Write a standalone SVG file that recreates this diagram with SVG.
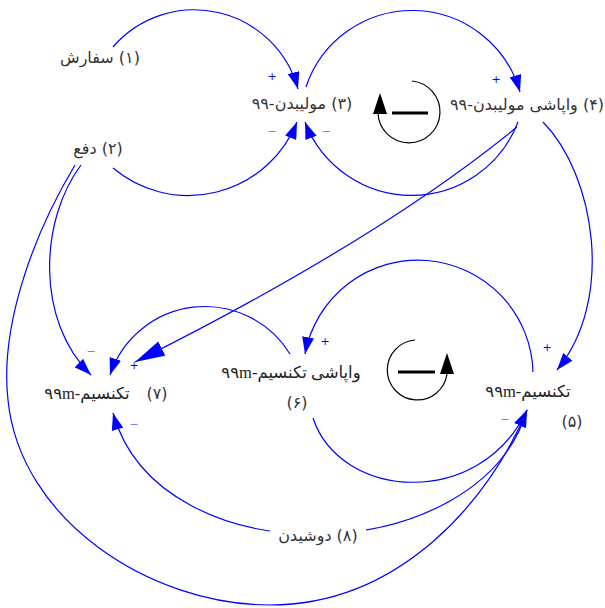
<svg xmlns="http://www.w3.org/2000/svg" width="605" height="608" viewBox="0 0 605 608">
<defs>
<style>
.c{fill:none;stroke:#0000ff;stroke-width:1.2;marker-end:url(#ah)}
.cb{fill:none;stroke:#0000ff;stroke-width:1.2;marker-end:url(#ahb)}
.t{font-family:"DejaVu Sans",sans-serif;font-size:16px;fill:#333;text-anchor:middle;dominant-baseline:central;direction:rtl}
.ts{font-family:"Liberation Serif","DejaVu Sans",serif;font-size:16.5px;fill:#222;text-anchor:middle;dominant-baseline:central;direction:rtl}
.p{font-family:"DejaVu Sans",sans-serif;font-size:11px;fill:#0000ff;text-anchor:middle;dominant-baseline:central}
.m{font-family:"DejaVu Sans",sans-serif;font-size:11px;fill:#7a7aff;text-anchor:middle;dominant-baseline:central}
.loop{fill:none;stroke:#000;stroke-width:1.2}
</style>
<marker id="ah" viewBox="0 0 17 12" refX="17" refY="6" markerWidth="17" markerHeight="12" markerUnits="userSpaceOnUse" orient="auto"><path d="M0,0 L17,6 L0,12 z" fill="#0000ff"/></marker>
<marker id="ahb" viewBox="0 0 30 16" refX="30" refY="8" markerWidth="30" markerHeight="16" markerUnits="userSpaceOnUse" orient="auto"><path d="M0,0 L30,8 L0,16 z" fill="#0000ff"/></marker>
</defs>
<rect width="605" height="608" fill="#fff"/>
<g id="connectors">
<path class="c" d="M113,47 A107.5,107.5 0 0 1 298,89"/>
<path class="c" d="M113,168 A117,117 0 0 0 297,122"/>
<path class="c" d="M306,87 A112,112 0 0 1 520,92"/>
<path class="c" d="M518,122 A114,114 0 0 1 305,122"/>
<path class="c" d="M543,122 C595,175 615,300 557,370"/>
<path class="c" d="M533,372 A115,115 0 0 0 305,354"/>
<path class="c" d="M290,354 A100,100 0 0 0 110,375"/>
<path class="cb" d="M517,127 Q379,240 135,362"/>
<path class="c" d="M81,165 C40,220 35,320 91,375"/>
<path class="c" d="M75,165 C30,240 0,330 8,400 C20,520 150,605 270,605 C400,605 490,500 527,410"/>
<path class="c" d="M313,418 C340,500 480,510 527,410"/>
<path class="c" d="M527,410 C480,570 160,580 113,413"/>
<text class="p" x="272" y="76">+</text>
<text class="m" x="272" y="131">−</text>
<text class="m" x="326" y="131">−</text>
<text class="p" x="496" y="79">+</text>
<text class="p" x="547" y="347">+</text>
<text class="m" x="505" y="419">−</text>
<text class="p" x="325" y="341">+</text>
<text class="m" x="91" y="351">−</text>
<text class="p" x="134" y="365">+</text>
<text class="m" x="134" y="424">−</text>
</g>
<g id="n1"><text class="t" x="100" y="57">(۱) سفارش</text></g>
<g id="n2"><text class="t" x="98" y="148">(۲) دفع</text></g>
<g id="n3"><text class="t" x="302" y="103">(۳) مولیبدن-۹۹</text></g>
<g id="n4"><text class="t" x="527" y="104">(۴) واپاشی مولیبدن-۹۹</text></g>
<g id="n5"><text class="ts" x="528" y="391">تکنسیم-۹۹m</text><text class="t" x="572" y="421">(۵)</text></g>
<g id="n6"><text class="ts" x="291" y="372">واپاشی تکنسیم-۹۹m</text><text class="t" x="297" y="402">(۶)</text></g>
<g id="n7"><text class="ts" x="87" y="393">تکنسیم-۹۹m</text><text class="t" x="157" y="393">(۷)</text></g>
<g id="n8"><rect x="270" y="525" width="96" height="22" fill="#fff"/><text class="t" x="318" y="535">(۸) دوشیدن</text></g>
<g id="loop1">
<path class="loop" d="M412,81 A31,31 0 1 1 378,113"/>
<polygon points="373,114 387,114 380,93" fill="#000"/>
<line x1="392" y1="113" x2="428" y2="113" stroke="#000" stroke-width="3"/>
</g>
<g id="loop2">
<path class="loop" d="M415,340 A30,30 0 1 0 447,374"/>
<polygon points="440,374 454,374 447,353" fill="#000"/>
<line x1="398" y1="372" x2="435" y2="372" stroke="#000" stroke-width="3"/>
</g>
</svg>
